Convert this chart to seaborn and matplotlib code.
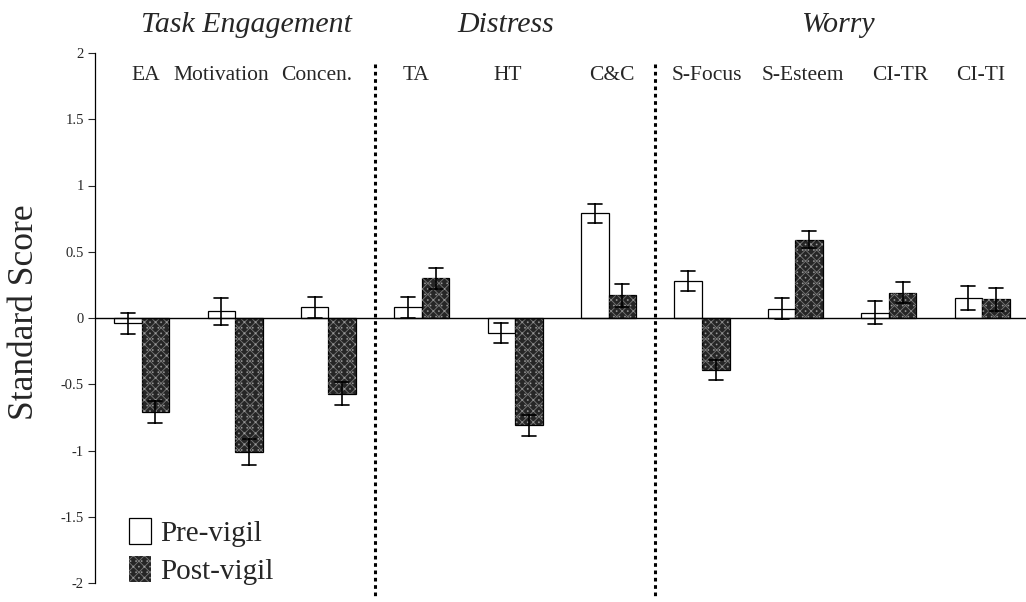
import numpy as np
import pandas as pd
import matplotlib
matplotlib.use("Agg")
import matplotlib.pyplot as plt
from matplotlib.patches import Patch, Rectangle
import seaborn as sns

# Standardised state scores before and after the vigil (means and SE)
categories = ["EA", "Motivation", "Concen.", "TA", "HT", "C&C",
              "S-Focus", "S-Esteem", "CI-TR", "CI-TI"]
pre_vigil = [-0.04, 0.05, 0.08, 0.08, -0.11, 0.79, 0.28, 0.07, 0.04, 0.15]
pre_err = [0.08, 0.10, 0.08, 0.08, 0.075, 0.07, 0.075, 0.08, 0.085, 0.09]
post_vigil = [-0.71, -1.01, -0.57, 0.30, -0.81, 0.17, -0.39, 0.59, 0.19, 0.14]
post_err = [0.08, 0.10, 0.09, 0.08, 0.08, 0.09, 0.075, 0.065, 0.08, 0.09]
phases = ["Pre-vigil", "Post-vigil"]
groups = ["Task Engagement", "Distress", "Worry"]
yticks = [2, 1.5, 1, 0.5, 0, -0.5, -1, -1.5, -2]
ytick_labels = ["2", "1.5", "1", "0.5", "0", "-0.5", "-1", "-1.5", "-2"]

# label placement tweaks (in category units)
label_shift = [0.04, -0.15, -0.13, -0.06, -0.08, 0.04, 0.05, 0.08, 0.12, -0.02]
group_x = [1.12, 3.9, 7.45]

sns.set_style("white")
plt.rcParams["font.family"] = ["Liberation Serif", "DejaVu Serif"]
plt.rcParams["hatch.linewidth"] = 0.6

# Each cell is stored as mean-err / mean+err so the mean is the value and
# the min/max span gives the error bar.
rows = []
for phase, vals, errs in [(phases[0], pre_vigil, pre_err),
                          (phases[1], post_vigil, post_err)]:
    for c, v, e in zip(categories, vals, errs):
        rows.append({"measure": c, "phase": phase, "score": v - e})
        rows.append({"measure": c, "phase": phase, "score": v + e})
df = pd.DataFrame(rows)

fig = plt.figure(figsize=(10.26, 6.02), dpi=100)
ax = fig.add_axes([95 / 1026, 1 - 583 / 602, 1 - 95 / 1026, (583 - 53) / 602])

dark = "#262626"
speck = (1, 1, 1, 0.38)
texture = "xxx..."
sns.barplot(data=df, x="measure", y="score", hue="phase",
            order=categories, hue_order=phases,
            palette={"Pre-vigil": "white", "Post-vigil": dark},
            errorbar=lambda s: (s.min(), s.max()),
            capsize=0.3, err_kws={"color": "black", "linewidth": 1.2},
            width=0.59, gap=0, linewidth=0.9, edgecolor="black",
            saturation=1, legend=False, ax=ax)

# speckled texture on the post-vigil bars
n = len(categories)
for p in ax.patches[n:2 * n]:
    ax.add_patch(Rectangle(p.get_xy(), p.get_width(), p.get_height(),
                           facecolor="none", edgecolor=speck,
                           linewidth=0, hatch=texture,
                           zorder=p.get_zorder() + 0.1))

ax.axhline(0, color="black", linewidth=1.0, zorder=5)
ax.set_ylim(-2, 2)
ax.set_xlim(-0.5, 9.47)
ax.set_yticks(yticks)
ax.set_yticklabels(ytick_labels, fontsize=10.5)
ax.tick_params(axis="y", direction="out", length=5, width=0.8, left=True, pad=3)
ax.set_xticks([])
ax.set_xlabel("")
ax.set_ylabel("")
for s in ["top", "right", "bottom"]:
    ax.spines[s].set_visible(False)
ax.spines["left"].set_color("black")
ax.spines["left"].set_linewidth(0.9)

# dotted separators between the three groups
for xs in [2.5, 5.5]:
    ax.plot([xs, xs], [1.92, -2.12], linestyle=(0, (1.2, 1.2)), color="black",
            linewidth=2.2, clip_on=False, zorder=6)

for i, c in enumerate(categories):
    ax.text(i + label_shift[i], 1.83, c, ha="center", va="center", fontsize=15.5)

for name, xc in zip(groups, group_x):
    ax.text(xc, 2.21, name, ha="center", va="center", fontsize=21.5,
            style="italic", clip_on=False)

fig.text(25 / 1026, 1 - 312 / 602, "Standard Score", rotation=90,
         ha="center", va="center", fontsize=25.5)

handles = [Patch(facecolor="white", edgecolor="black", linewidth=0.9),
           Patch(facecolor=dark, edgecolor=speck, linewidth=0, hatch=texture)]
ax.legend(handles, phases, loc="lower left",
          bbox_to_anchor=(0.037, -0.004), frameon=False, fontsize=21,
          handlelength=0.75, handleheight=1.0, handletextpad=0.3,
          labelspacing=0.3, borderpad=0, borderaxespad=0)

fig.savefig("out.png", dpi=100)
